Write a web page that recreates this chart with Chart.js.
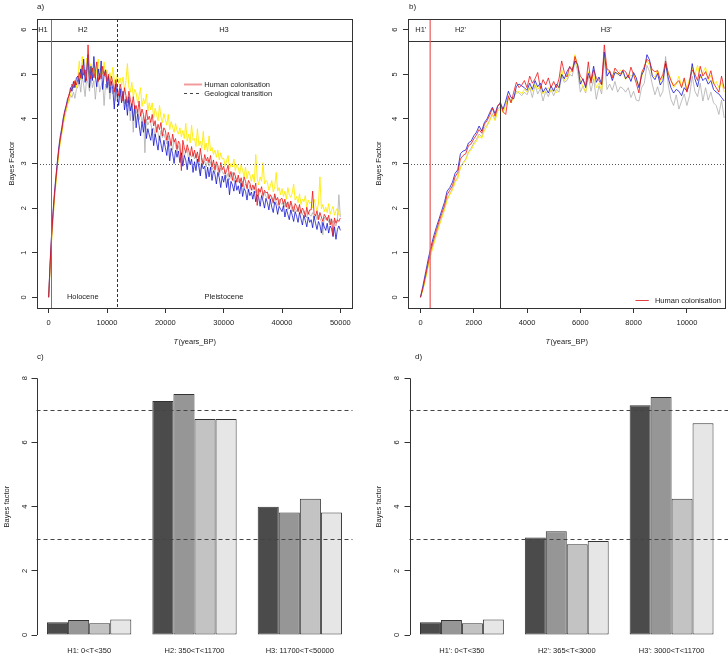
<!DOCTYPE html>
<html>
<head>
<meta charset="utf-8">
<script src="https://cdn.jsdelivr.net/npm/chart.js@4.4.0/dist/chart.umd.min.js"></script>
<style>
  body { margin: 0; background: #fff; }
  #wrap { position: relative; width: 728px; height: 656px; overflow: hidden; background: #fff; }
  canvas { position: absolute; }
  #cA { left: 0; top: 0; }
  #cB { left: 364px; top: 0; }
  #cC { left: 0; top: 330px; }
  #cD { left: 364px; top: 330px; }
</style>
</head>
<body>
<div id="wrap">
  <canvas id="cC" width="364" height="326"></canvas>
  <canvas id="cD" width="364" height="326"></canvas>
  <canvas id="cA" width="364" height="350"></canvas>
  <canvas id="cB" width="364" height="350"></canvas>
</div>
<script>
// Data

// a) Bayes factor vs T, every 250 years
const yearsA = [
  0,250,500,750,1000,1250,1500,1750,2000,2250,
  2500,2750,3000,3250,3500,3750,4000,4250,4500,4750,
  5000,5250,5500,5750,6000,6250,6500,6750,7000,7250,
  7500,7750,8000,8250,8500,8750,9000,9250,9500,9750,
  10000,10250,10500,10750,11000,11250,11500,11750,12000,12250,
  12500,12750,13000,13250,13500,13750,14000,14250,14500,14750,
  15000,15250,15500,15750,16000,16250,16500,16750,17000,17250,
  17500,17750,18000,18250,18500,18750,19000,19250,19500,19750,
  20000,20250,20500,20750,21000,21250,21500,21750,22000,22250,
  22500,22750,23000,23250,23500,23750,24000,24250,24500,24750,
  25000,25250,25500,25750,26000,26250,26500,26750,27000,27250,
  27500,27750,28000,28250,28500,28750,29000,29250,29500,29750,
  30000,30250,30500,30750,31000,31250,31500,31750,32000,32250,
  32500,32750,33000,33250,33500,33750,34000,34250,34500,34750,
  35000,35250,35500,35750,36000,36250,36500,36750,37000,37250,
  37500,37750,38000,38250,38500,38750,39000,39250,39500,39750,
  40000,40250,40500,40750,41000,41250,41500,41750,42000,42250,
  42500,42750,43000,43250,43500,43750,44000,44250,44500,44750,
  45000,45250,45500,45750,46000,46250,46500,46750,47000,47250,
  47500,47750,48000,48250,48500,48750,49000,49250,49500,49750,
  50000
];
const blueA = [
  0.00,0.80,1.42,1.92,2.36,2.72,3.06,3.38,3.62,3.80,
  4.02,4.18,4.30,4.46,4.52,4.70,4.62,4.84,4.70,4.92,
  4.96,4.78,5.12,4.90,5.34,4.82,5.06,5.44,4.70,5.18,
  4.86,5.40,4.96,4.72,5.12,4.88,5.30,4.66,4.98,5.10,
  4.70,4.96,4.58,4.84,4.66,4.22,4.78,4.54,4.30,4.68,
  4.36,4.62,4.20,4.44,4.08,4.50,4.18,4.34,3.96,4.30,
  3.80,4.12,3.86,3.62,3.94,3.70,3.98,3.56,3.78,3.64,
  3.52,3.78,3.40,3.66,3.48,3.30,3.62,3.44,3.26,3.52,
  3.36,3.18,3.50,3.06,3.34,3.22,3.00,3.30,3.14,3.28,
  3.02,3.24,2.94,3.18,3.08,2.86,3.14,2.98,3.10,2.80,
  3.04,2.84,3.10,2.92,2.72,3.00,2.88,2.94,2.66,2.92,
  2.70,2.92,2.62,2.84,2.76,2.54,2.80,2.68,2.46,2.72,
  2.58,2.74,2.46,2.66,2.30,2.60,2.52,2.38,2.62,2.40,
  2.50,2.32,2.56,2.26,2.44,2.38,2.18,2.42,2.28,2.36,
  2.20,2.38,2.14,2.30,2.24,2.04,2.28,2.16,2.00,2.22,
  2.12,1.96,2.20,2.02,1.90,2.14,2.06,1.86,2.04,1.98,
  1.92,2.06,1.80,1.98,1.86,1.74,1.96,1.84,1.70,1.92,
  1.82,1.68,1.90,1.76,1.62,1.84,1.72,1.58,1.80,1.68,
  1.74,1.56,1.82,1.66,1.52,1.70,1.62,1.44,1.68,1.58,
  1.50,1.66,1.44,1.60,1.54,1.36,1.58,1.30,1.52,1.60,
  1.50
];
const redA = [
  0.00,0.74,1.36,1.86,2.30,2.66,3.00,3.32,3.56,3.74,
  3.98,4.14,4.28,4.40,4.56,4.62,4.78,4.70,4.86,4.76,
  4.88,5.04,4.92,5.20,4.98,5.10,4.86,5.66,5.02,4.90,
  5.14,4.92,5.06,5.28,4.84,5.02,4.90,5.18,4.96,5.08,
  4.84,5.00,4.74,4.96,4.82,4.60,4.88,4.70,4.52,4.78,
  4.64,4.40,4.70,4.52,4.36,4.62,4.44,4.28,4.50,4.22,
  4.30,4.14,4.40,4.06,4.22,4.10,3.90,4.20,3.98,4.06,
  3.92,4.10,3.84,3.96,3.70,3.88,3.76,3.92,3.62,3.80,
  3.74,3.52,3.70,3.58,3.40,3.66,3.48,3.56,3.32,3.50,
  3.44,2.84,3.52,3.36,3.24,3.42,3.30,3.18,3.38,3.16,
  3.30,3.12,3.26,3.04,3.34,3.10,2.98,3.20,3.06,3.14,
  3.02,3.18,2.92,3.08,2.86,3.04,2.96,2.80,3.02,2.86,
  2.94,2.76,2.84,2.96,2.70,2.82,2.62,2.80,2.72,2.58,
  2.74,2.56,2.68,2.48,2.70,2.60,2.44,2.62,2.56,2.40,
  2.52,2.42,2.56,2.06,2.44,2.36,2.48,2.28,2.40,2.34,
  2.36,2.20,2.30,2.24,2.12,2.32,2.18,2.24,2.06,2.20,
  2.22,2.08,2.20,2.02,2.14,1.98,2.16,2.04,1.92,2.10,
  2.04,1.92,2.08,1.88,2.00,1.94,1.80,2.02,1.86,1.96,
  1.96,2.38,1.88,1.82,1.94,1.74,1.90,1.80,1.70,1.86,
  1.80,1.72,1.84,1.62,1.76,1.38,1.78,1.66,1.74,1.70,
  1.78
];
const yellowA = [
  0.00,0.62,1.24,1.74,2.20,2.56,2.92,3.24,3.48,3.66,
  3.88,4.04,4.20,4.32,4.46,4.52,4.70,4.66,4.84,4.70,
  4.92,5.30,4.88,5.40,5.02,4.96,5.36,5.10,4.90,5.24,
  5.06,5.22,4.90,5.10,5.34,4.96,5.12,5.00,5.28,4.94,
  5.10,4.90,5.04,4.84,5.16,4.88,4.72,5.00,4.80,4.92,
  4.76,4.94,4.62,4.86,5.24,4.70,4.60,4.82,4.50,4.66,
  4.58,4.36,4.52,4.70,4.28,4.46,4.34,4.56,4.18,4.36,
  4.20,4.36,4.02,4.24,4.10,3.96,4.30,4.04,3.92,4.12,
  3.98,3.86,4.10,3.76,3.94,3.82,3.70,3.90,3.74,3.66,
  3.80,3.60,3.74,3.56,3.90,3.50,3.66,3.46,3.86,3.52,
  3.56,3.38,3.78,3.40,3.50,3.34,3.72,3.30,3.46,3.26,
  3.62,3.28,3.36,3.20,3.30,3.14,3.30,3.08,3.24,3.10,
  3.12,2.94,3.06,3.18,2.88,3.00,2.92,3.10,2.84,2.98,
  2.90,2.76,2.98,2.84,2.70,2.92,2.66,2.82,2.74,2.60,
  2.76,2.58,3.20,2.66,2.52,2.70,2.60,3.02,2.54,2.62,
  2.58,2.40,2.50,2.62,2.36,2.48,2.80,2.38,2.46,2.30,
  2.44,2.26,2.38,2.20,2.46,2.30,2.24,2.34,2.54,2.18,
  2.26,2.12,2.32,2.08,2.20,2.14,2.28,2.02,2.18,2.10,
  2.14,2.00,2.20,2.06,1.94,2.10,2.70,1.98,2.08,1.92,
  2.02,1.90,2.10,1.86,1.96,2.04,1.84,1.94,2.00,1.84,
  1.86
];
const greyA = [
  0.00,0.66,1.28,1.78,2.24,2.60,2.96,3.28,3.50,3.70,
  3.90,4.06,4.18,4.34,4.40,4.54,4.48,4.60,4.46,4.66,
  4.72,4.88,4.60,4.96,4.76,4.50,4.90,4.80,4.62,4.94,
  4.70,4.86,4.44,4.80,4.92,4.60,4.74,4.84,4.30,4.78,
  4.66,4.82,4.44,4.72,4.56,4.70,4.40,4.64,4.48,4.56,
  4.48,4.56,4.34,4.50,4.28,4.42,3.96,4.34,3.70,4.24,
  4.12,4.22,3.98,4.14,3.92,4.06,3.24,4.00,3.86,3.94,
  3.90,3.74,3.80,3.60,3.82,3.68,3.52,3.74,3.58,3.66,
  3.56,3.44,3.62,3.38,3.48,3.30,3.52,3.42,3.24,3.40,
  3.30,3.20,3.38,3.16,3.26,3.34,3.06,3.22,3.14,3.24,
  3.10,3.22,3.02,3.16,2.76,3.12,3.00,3.06,2.92,3.08,
  2.94,3.04,2.86,2.92,2.80,2.98,2.84,2.74,2.90,2.82,
  2.76,2.86,2.68,2.78,2.64,2.72,2.80,2.60,2.70,2.62,
  2.58,2.66,2.50,2.60,2.44,2.54,2.48,2.36,2.52,2.44,
  2.40,2.48,2.34,2.42,2.28,2.38,2.30,2.22,2.36,2.26,
  2.22,2.32,2.18,2.24,2.10,2.28,2.14,2.06,2.20,2.12,
  2.08,2.16,2.02,2.12,1.96,2.06,2.10,1.92,2.04,1.98,
  1.92,2.02,1.88,1.96,1.84,1.94,1.86,1.78,1.92,1.84,
  1.82,1.90,1.78,1.86,1.74,1.84,1.76,1.70,1.40,1.80,
  1.74,1.80,1.68,1.76,1.64,1.72,1.66,1.60,1.72,2.30,
  1.80
];

// b) zoom on the first 11400 years, every 100 years
const yearsB = [
  0,100,200,300,400,500,600,700,800,900,
  1000,1100,1200,1300,1400,1500,1600,1700,1800,1900,
  2000,2100,2200,2300,2400,2500,2600,2700,2800,2900,
  3000,3100,3200,3300,3400,3500,3600,3700,3800,3900,
  4000,4100,4200,4300,4400,4500,4600,4700,4800,4900,
  5000,5100,5200,5300,5400,5500,5600,5700,5800,5900,
  6000,6100,6200,6300,6400,6500,6600,6700,6800,6900,
  7000,7100,7200,7300,7400,7500,7600,7700,7800,7900,
  8000,8100,8200,8300,8400,8500,8600,8700,8800,8900,
  9000,9100,9200,9300,9400,9500,9600,9700,9800,9900,
  10000,10100,10200,10300,10400,10500,10600,10700,10800,10900,
  11000,11100,11200,11300,11400
];
const blueB = [
  0.00,0.28,0.58,0.88,1.15,1.38,1.58,1.76,1.95,2.13,
  2.38,2.46,2.58,2.78,2.86,3.22,3.28,3.30,3.46,3.50,
  3.62,3.70,3.84,3.73,3.92,4.00,4.14,4.26,4.12,4.30,
  4.34,4.22,4.40,4.62,4.48,4.45,4.73,4.78,4.74,4.70,
  4.64,4.80,4.66,4.86,4.72,4.80,4.60,4.70,4.58,4.74,
  4.62,4.78,4.70,5.00,4.90,5.06,5.16,5.10,5.30,5.22,
  4.78,4.90,4.70,5.02,4.86,5.18,4.82,4.94,4.78,5.50,
  4.96,5.06,4.86,5.04,5.02,4.96,5.08,4.90,4.98,4.84,
  5.04,4.92,4.70,4.98,5.10,5.44,5.32,4.96,4.88,5.02,
  4.76,4.86,5.24,4.92,4.70,4.58,4.66,4.62,4.52,4.70,
  4.62,4.80,5.24,4.90,4.72,5.00,4.86,4.92,4.78,4.86,
  4.66,4.60,4.56,4.48,4.40
];
const redB = [
  0.00,0.22,0.50,0.80,1.08,1.30,1.50,1.70,1.88,2.05,
  2.30,2.40,2.50,2.70,2.80,3.10,3.18,3.22,3.40,3.44,
  3.55,3.64,3.76,3.68,3.88,3.96,4.08,4.24,4.06,4.28,
  4.38,4.16,4.10,4.52,4.36,4.60,4.82,4.70,4.76,4.86,
  4.70,4.96,4.80,4.90,5.04,4.68,4.88,4.76,4.92,4.70,
  4.84,4.70,4.90,5.30,5.04,4.94,5.18,5.06,5.40,5.20,
  4.96,4.88,4.74,5.28,4.80,5.10,4.92,4.86,4.76,5.66,
  5.12,5.08,4.92,5.14,5.06,5.00,5.10,5.06,4.92,5.16,
  4.98,4.80,4.58,5.04,5.16,5.34,5.28,5.10,5.06,5.08,
  4.88,5.00,5.30,5.02,4.86,4.74,4.80,4.86,4.70,4.92,
  4.60,4.84,5.10,5.00,4.86,5.18,4.96,5.06,4.90,5.08,
  4.80,4.70,4.60,4.96,4.68
];
const yellowB = [
  0.00,0.18,0.44,0.72,0.98,1.20,1.40,1.60,1.78,1.96,
  2.18,2.30,2.40,2.58,2.66,2.90,3.00,3.08,3.24,3.30,
  3.42,3.50,3.62,3.56,3.74,3.84,3.96,4.08,3.96,4.18,
  4.24,4.14,4.30,4.46,4.36,4.50,4.58,4.62,4.56,4.66,
  4.60,4.72,4.62,4.78,4.66,4.74,4.56,4.64,4.70,4.60,
  4.68,4.58,4.74,5.10,4.86,4.92,5.04,5.08,5.44,5.12,
  4.86,4.72,4.60,5.06,4.84,5.00,4.70,4.80,4.64,5.40,
  5.10,5.04,4.96,5.06,4.98,5.10,5.02,4.88,5.00,4.96,
  5.00,4.86,4.74,4.92,5.20,5.30,5.20,5.00,4.94,5.10,
  4.84,4.94,5.22,5.04,4.90,4.70,4.78,4.96,4.72,4.88,
  4.68,4.90,5.16,4.98,5.20,4.92,5.04,5.16,4.86,4.98,
  4.78,4.84,4.70,4.82,4.60
];
const greyB = [
  0.00,0.20,0.46,0.74,1.00,1.22,1.42,1.62,1.80,1.98,
  2.20,2.32,2.44,2.60,2.70,2.94,3.02,3.10,3.26,3.34,
  3.46,3.54,3.66,3.60,3.80,3.86,3.98,4.12,3.98,4.22,
  4.28,4.18,4.34,4.50,4.40,4.48,4.62,4.58,4.52,4.60,
  4.54,4.70,4.48,4.76,4.56,4.68,4.40,4.62,4.50,4.66,
  4.52,4.66,4.60,4.98,4.82,4.86,5.00,4.96,5.30,5.06,
  4.60,4.74,4.58,4.96,4.62,4.90,4.44,4.74,4.56,5.36,
  4.66,4.78,4.64,4.84,4.60,4.72,4.68,4.60,4.70,4.48,
  4.62,4.42,4.40,4.70,4.80,5.20,5.06,4.78,4.54,4.72,
  4.50,4.62,5.40,4.76,4.44,4.30,4.54,4.22,4.40,4.56,
  4.30,4.52,4.96,4.62,4.50,4.80,4.40,4.70,4.42,4.60,
  4.36,4.30,4.10,4.42,4.02
];

// c) and d) Bayes factor per hypothesis
const hypC = ['H1: 0<T<350', 'H2: 350<T<11700', 'H3: 11700<T<50000'];
const set1C = [0.40, 7.29, 4.00];
const set2C = [0.47, 7.51, 3.82];
const set3C = [0.37, 6.73, 4.25];
const set4C = [0.48, 6.73, 3.82];

const hypD = ["H1': 0<T<350", "H2': 365<T<3000", "H3': 3000<T<11700"];
const set1D = [0.40, 3.04, 7.16];
const set2D = [0.47, 3.23, 7.42];
const set3D = [0.37, 2.83, 4.25];
const set4D = [0.48, 2.93, 6.60];

// Tick values
const xTicksA = [0, 10000, 20000, 30000, 40000, 50000];
const xTicksB = [0, 2000, 4000, 6000, 8000, 10000];
const yTicksLine = [0, 1, 2, 3, 4, 5, 6];
const yTicksBar = [0, 2, 4, 6, 8];

// Chart defaults

const FAMILY = '"Liberation Sans", Arial, sans-serif';
const FONT = '7.5px ' + FAMILY;
Chart.defaults.font.family = FAMILY;
Chart.defaults.font.size = 7.5;
Chart.defaults.color = '#222';

const colours = {
    red: 'rgba(238, 20, 20, 0.8)',
    blue: 'rgba(10, 10, 205, 0.75)',
    yellow: 'rgba(255, 236, 0, 0.9)',
    grey: 'rgba(170, 170, 170, 0.75)'
};
const barFill = ['#4b4b4b', '#969696', '#c3c3c3', '#e6e6e6'];

// Helpers

function px(v) {
    return Math.round(v) + 0.5;
}

function seg(ctx, x1, y1, x2, y2, color, width, dash) {
    ctx.save();
    ctx.strokeStyle = color;
    ctx.lineWidth = width;
    ctx.setLineDash(dash || []);
    ctx.beginPath();
    ctx.moveTo(x1, y1);
    ctx.lineTo(x2, y2);
    ctx.stroke();
    ctx.restore();
}

function label(ctx, str, x, y, align, font) {
    ctx.save();
    ctx.font = font || FONT;
    ctx.fillStyle = '#222';
    ctx.textAlign = align || 'center';
    ctx.textBaseline = 'middle';
    ctx.fillText(str, x, y);
    ctx.restore();
}

// T(years_BP) with an italic T
function xTitle(chart, y) {
    const { ctx, chartArea: a } = chart;
    const italic = 'italic ' + FONT;
    ctx.save();
    ctx.font = italic;
    const w1 = ctx.measureText('T').width;
    ctx.font = FONT;
    const w2 = ctx.measureText('(years_BP)').width;
    const x0 = (a.left + a.right) / 2 - (w1 + w2) / 2;
    ctx.restore();
    label(ctx, 'T', x0, y, 'left', italic);
    label(ctx, '(years_BP)', x0 + w1 + 0.5, y, 'left');
}

function lineSet(xs, ys, color, order) {
    return {
        data: xs.map((x, i) => ({ x: x, y: ys[i] })),
        borderColor: color,
        borderWidth: 1,
        pointRadius: 0,
        tension: 0,
        order: order
    };
}

function lineOptions(o) {
    return {
        responsive: false,
        animation: false,
        events: [],
        layout: { padding: { left: 0, top: 19, right: o.padRight, bottom: 0 } },
        plugins: { legend: { display: false }, tooltip: { enabled: false } },
        scales: {
            x: {
                type: 'linear',
                min: o.xMin,
                max: o.xMax,
                afterBuildTicks: s => { s.ticks = o.xTicks.map(v => ({ value: v })); },
                afterFit: s => { s.height = 42; },
                grid: { drawOnChartArea: false, tickLength: 5, color: '#333' },
                border: { display: false },
                ticks: { padding: 5, maxRotation: 0, autoSkip: false, color: '#222', callback: v => String(v) }
            },
            y: {
                type: 'linear',
                min: -0.24,
                max: 6.24,
                afterBuildTicks: s => { s.ticks = yTicksLine.map(v => ({ value: v })); },
                afterFit: s => { s.width = o.axisWidth; },
                grid: { drawOnChartArea: false, tickLength: 5, color: '#333' },
                border: { display: false },
                ticks: { minRotation: 90, maxRotation: 90, crossAlign: 'center', padding: o.tickPad, color: '#222', callback: v => String(v) },
                title: { display: true, text: 'Bayes Factor', color: '#222', padding: { top: o.titlePad, bottom: 0 } }
            }
        }
    };
}

function barOptions(o) {
    return {
        responsive: false,
        animation: false,
        events: [],
        layout: { padding: { left: 0, top: 38, right: o.padRight, bottom: 0 } },
        plugins: { legend: { display: false }, tooltip: { enabled: false } },
        scales: {
            x: {
                afterFit: s => { s.height = 10.7; },
                grid: { display: false, drawTicks: false },
                border: { display: false },
                ticks: { padding: 1, maxRotation: 0, autoSkip: false, color: '#222' }
            },
            y: {
                min: -0.32,
                max: 8.32,
                afterBuildTicks: s => { s.ticks = yTicksBar.map(v => ({ value: v })); },
                afterFit: s => { s.width = o.axisWidth; },
                grid: { drawOnChartArea: false, tickLength: 5, color: '#333' },
                border: { display: false },
                ticks: { minRotation: 90, maxRotation: 90, crossAlign: 'center', padding: o.tickPad, color: '#222' },
                title: { display: true, text: 'Bayes factor', color: '#222', padding: { top: o.titlePad, bottom: 0 } }
            }
        }
    };
}

function barSets(sets) {
    return sets.map((vals, i) => ({
        data: vals,
        backgroundColor: barFill[i],
        borderColor: '#333',
        borderWidth: 1,
        borderSkipped: false,
        barPercentage: 1,
        categoryPercentage: 0.8
    }));
}

// a) full period

const bandLevel = 5.75;

new Chart(document.getElementById('cA'), {
    type: 'line',
    data: {
        datasets: [
            lineSet(yearsA, redA, colours.red, 1),
            lineSet(yearsA, blueA, colours.blue, 2),
            lineSet(yearsA, yellowA, colours.yellow, 3),
            lineSet(yearsA, greyA, colours.grey, 4)
        ]
    },
    options: lineOptions({ xMin: -2000, xMax: 52000, xTicks: xTicksA, padRight: 12, axisWidth: 37, tickPad: 5.5, titlePad: 7 }),
    plugins: [{
        id: 'panelA',
        afterDatasetsDraw(chart) {
            const { ctx, chartArea: a, scales: { x, y } } = chart;
            const y3 = px(y.getPixelForValue(3));
            seg(ctx, a.left, y3, a.right, y3, '#555', 1, [1, 2]);
            const yb = px(y.getPixelForValue(bandLevel));
            seg(ctx, a.left, yb, a.right, yb, '#333', 1);
            const xc = px(x.getPixelForValue(350));
            seg(ctx, xc, a.top, xc, a.bottom, '#e04848', 1);
            const xg = px(x.getPixelForValue(11700));
            seg(ctx, xg, a.top, xg, a.bottom, '#333', 1, [3, 2]);

            ctx.save();
            ctx.strokeStyle = '#333';
            ctx.lineWidth = 1;
            ctx.strokeRect(px(a.left), px(a.top), Math.round(a.right - a.left), Math.round(a.bottom - a.top));
            ctx.restore();

            const y6 = y.getPixelForValue(6);
            label(ctx, 'H1', x.getPixelForValue(-980), y6);
            label(ctx, 'H2', x.getPixelForValue(5850), y6);
            label(ctx, 'H3', x.getPixelForValue(30050), y6);
            const y0 = y.getPixelForValue(0);
            label(ctx, 'Holocene', x.getPixelForValue(5850), y0);
            label(ctx, 'Pleistocene', x.getPixelForValue(30050), y0);

            // legend
            const l1 = px(y.getPixelForValue(4.79));
            const l2 = px(y.getPixelForValue(4.59));
            const lx1 = x.getPixelForValue(23200), lx2 = x.getPixelForValue(26300);
            seg(ctx, lx1, l1, lx2, l1, 'rgba(230, 90, 90, 0.6)', 2);
            seg(ctx, lx1, l2, lx2, l2, '#444', 1, [3, 3]);
            const tx = x.getPixelForValue(26650);
            label(ctx, 'Human colonisation', tx, l1, 'left');
            label(ctx, 'Geological transition', tx, l2, 'left');

            label(ctx, 'a)', 37, 7, 'left', '8px ' + FAMILY);
            xTitle(chart, 342);
        }
    }]
});

// b) first 11400 years

new Chart(document.getElementById('cB'), {
    type: 'line',
    data: {
        datasets: [
            lineSet(yearsB, redB, colours.red, 1),
            lineSet(yearsB, blueB, colours.blue, 2),
            lineSet(yearsB, yellowB, colours.yellow, 3),
            lineSet(yearsB, greyB, colours.grey, 4)
        ]
    },
    options: lineOptions({ xMin: -468, xMax: 11430, xTicks: xTicksB, padRight: 3, axisWidth: 44, tickPad: 5.5, titlePad: 10 }),
    plugins: [{
        id: 'panelB',
        afterDatasetsDraw(chart) {
            const { ctx, chartArea: a, scales: { x, y } } = chart;
            const y3 = px(y.getPixelForValue(3));
            seg(ctx, a.left, y3, a.right, y3, '#555', 1, [1, 2]);
            const yb = px(y.getPixelForValue(bandLevel));
            seg(ctx, a.left, yb, a.right, yb, '#333', 1);
            const xc = x.getPixelForValue(365);
            seg(ctx, xc, a.top, xc, a.bottom, 'rgba(235, 100, 100, 0.85)', 1.5);
            const xs = px(x.getPixelForValue(3000));
            seg(ctx, xs, a.top, xs, a.bottom, '#333', 1);

            ctx.save();
            ctx.strokeStyle = '#333';
            ctx.lineWidth = 1;
            ctx.strokeRect(px(a.left), px(a.top), Math.round(a.right - a.left), Math.round(a.bottom - a.top));
            ctx.restore();

            const y6 = y.getPixelForValue(6);
            label(ctx, "H1'", x.getPixelForValue(10), y6);
            label(ctx, "H2'", x.getPixelForValue(1500), y6);
            label(ctx, "H3'", x.getPixelForValue(6970), y6);

            // legend
            const ly = px(y.getPixelForValue(-0.05));
            seg(ctx, x.getPixelForValue(8070), ly, x.getPixelForValue(8570), ly, '#e04040', 1);
            label(ctx, 'Human colonisation', x.getPixelForValue(8800), ly, 'left');

            label(ctx, 'b)', 45, 7, 'left', '8px ' + FAMILY);
            xTitle(chart, 342);
        }
    }]
});

// c) and d) bar charts

function barPlugin(id, tag, tagX, toEdge) {
    return {
        id: id,
        afterDatasetsDraw(chart) {
            const { ctx, chartArea: a, scales: { y } } = chart;
            const right = toEdge ? chart.width : a.right;
            [3, 7].forEach(v => {
                const yy = px(y.getPixelForValue(v));
                seg(ctx, a.left, yy, right, yy, '#444', 1, [4, 3]);
            });
            const ax = px(a.left);
            seg(ctx, ax, y.getPixelForValue(0), ax, y.getPixelForValue(8), '#333', 1);
            label(ctx, tag, tagX, 27, 'left', '8px ' + FAMILY);
        }
    };
}

new Chart(document.getElementById('cC'), {
    type: 'bar',
    data: { labels: hypC, datasets: barSets([set1C, set2C, set3C, set4C]) },
    options: barOptions({ padRight: 11.5, axisWidth: 36.5, tickPad: 4.5, titlePad: 2 }),
    plugins: [barPlugin('panelC', 'c)', 37, false)]
});

new Chart(document.getElementById('cD'), {
    type: 'bar',
    data: { labels: hypD, datasets: barSets([set1D, set2D, set3D, set4D]) },
    options: barOptions({ padRight: 4, axisWidth: 45.5, tickPad: 5.5, titlePad: 10 }),
    plugins: [barPlugin('panelD', 'd)', 51, true)]
});
</script>
</body>
</html>
